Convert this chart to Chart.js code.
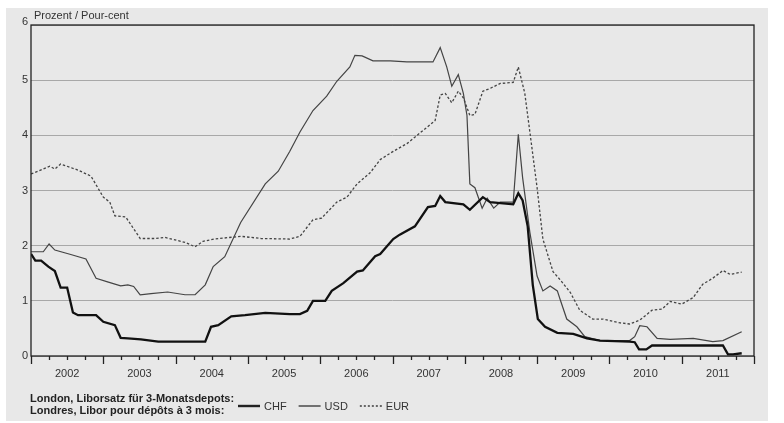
<!DOCTYPE html>
<html><head><meta charset="utf-8">
<script src="https://cdn.jsdelivr.net/npm/chart.js@4"></script>
<style>
html,body{margin:0;padding:0;background:#fff;}
#wrap{position:absolute;left:0;top:0;width:784px;height:423px;}
</style></head>
<body><div id="wrap"><canvas id="c" width="784" height="423"></canvas></div>
<script>
const yearLabels = ['2002','2003','2004','2005','2006','2007','2008','2009','2010','2011'];
const yTicks = [0,1,2,3,4,5,6];

const chfX = [2002.0,2002.06,2002.14,2002.24,2002.33,2002.41,2002.50,2002.58,2002.65,2002.90,2003.00,2003.16,2003.24,2003.34,2003.52,2003.76,2004.03,2004.27,2004.41,2004.49,2004.59,2004.77,2004.96,2005.24,2005.58,2005.72,2005.82,2005.90,2006.07,2006.16,2006.32,2006.51,2006.59,2006.76,2006.83,2007.01,2007.10,2007.31,2007.49,2007.59,2007.66,2007.73,2007.98,2008.07,2008.25,2008.35,2008.67,2008.74,2008.80,2008.87,2008.94,2009.01,2009.11,2009.28,2009.50,2009.69,2009.87,2010.28,2010.35,2010.41,2010.51,2010.59,2011.16,2011.57,2011.64,2011.71,2011.83];
const chfY = [1.85,1.73,1.73,1.62,1.54,1.24,1.24,0.79,0.74,0.74,0.62,0.56,0.33,0.32,0.30,0.26,0.26,0.26,0.26,0.53,0.56,0.72,0.74,0.78,0.76,0.76,0.82,1.0,1.0,1.18,1.32,1.53,1.55,1.81,1.85,2.12,2.2,2.35,2.7,2.72,2.9,2.79,2.75,2.65,2.88,2.79,2.75,2.95,2.82,2.35,1.29,0.67,0.53,0.42,0.40,0.32,0.28,0.26,0.25,0.12,0.12,0.19,0.19,0.19,0.03,0.03,0.05];

const usdX = [2002.0,2002.17,2002.25,2002.33,2002.55,2002.76,2002.90,2003.07,2003.24,2003.34,2003.42,2003.51,2003.66,2003.89,2004.13,2004.27,2004.41,2004.52,2004.68,2004.90,2005.24,2005.42,2005.58,2005.72,2005.90,2006.09,2006.23,2006.41,2006.48,2006.58,2006.73,2006.97,2007.20,2007.56,2007.66,2007.75,2007.82,2007.91,2007.98,2008.03,2008.07,2008.14,2008.24,2008.31,2008.40,2008.49,2008.67,2008.74,2008.80,2008.90,2009.00,2009.08,2009.18,2009.28,2009.32,2009.41,2009.55,2009.66,2009.87,2010.28,2010.35,2010.42,2010.52,2010.66,2010.84,2011.16,2011.43,2011.57,2011.83];
const usdY = [1.89,1.89,2.03,1.92,1.84,1.76,1.41,1.34,1.27,1.29,1.26,1.11,1.13,1.16,1.11,1.11,1.29,1.62,1.8,2.42,3.12,3.35,3.71,4.06,4.45,4.71,4.98,5.24,5.45,5.44,5.35,5.35,5.33,5.33,5.59,5.24,4.89,5.1,4.76,4.36,3.12,3.05,2.68,2.86,2.68,2.79,2.79,4.02,3.23,2.24,1.45,1.18,1.27,1.18,1.02,0.67,0.53,0.35,0.28,0.28,0.35,0.55,0.53,0.32,0.3,0.32,0.26,0.28,0.44];

const eurX = [2002.0,2002.10,2002.26,2002.33,2002.41,2002.65,2002.83,2003.00,2003.09,2003.16,2003.31,2003.51,2003.72,2003.85,2004.13,2004.27,2004.38,2004.54,2004.90,2005.18,2005.58,2005.72,2005.90,2006.02,2006.23,2006.37,2006.51,2006.69,2006.83,2007.01,2007.20,2007.34,2007.48,2007.59,2007.66,2007.73,2007.82,2007.91,2007.98,2008.07,2008.14,2008.25,2008.35,2008.49,2008.67,2008.74,2008.83,2008.90,2009.00,2009.08,2009.22,2009.32,2009.46,2009.59,2009.77,2009.91,2010.15,2010.28,2010.42,2010.59,2010.73,2010.84,2011.00,2011.16,2011.29,2011.43,2011.57,2011.67,2011.83];
const eurY = [3.3,3.35,3.44,3.39,3.48,3.37,3.26,2.88,2.79,2.54,2.52,2.13,2.13,2.15,2.06,1.98,2.08,2.12,2.17,2.13,2.12,2.17,2.47,2.5,2.79,2.88,3.12,3.32,3.56,3.71,3.85,4.0,4.15,4.27,4.73,4.76,4.59,4.8,4.68,4.36,4.38,4.8,4.85,4.94,4.96,5.24,4.76,4.06,3.05,2.12,1.53,1.38,1.15,0.83,0.67,0.67,0.6,0.58,0.65,0.83,0.85,0.99,0.94,1.06,1.3,1.41,1.55,1.48,1.52];

const pts = (xs, ys) => xs.map((x, i) => ({x, y: ys[i]}));
const FONT = "'Liberation Sans Narrow', 'Liberation Sans', Arial, sans-serif";

const decor = {
  id: 'decor',
  beforeDraw(chart) {
    const c = chart.ctx;
    c.save();
    c.fillStyle = '#e8e8e8';
    c.fillRect(6, 8, 762, 413);
    c.restore();
  },
  afterDraw(chart) {
    const c = chart.ctx, xs = chart.scales.x, ys = chart.scales.y, a = chart.chartArea;
    c.save();
    c.strokeStyle = '#222'; c.lineWidth = 1.3;
    c.strokeRect(a.left, a.top, a.right - a.left, a.bottom - a.top);
    // x ticks: quarters short, years long
    for (let q = 0; q <= 40; q++) {
      const px = Math.round(xs.getPixelForValue(2002 + q / 4)) + 0.5;
      c.beginPath(); c.moveTo(px, a.bottom); c.lineTo(px, a.bottom + (q % 4 === 0 ? 8 : 4)); c.stroke();
    }
    c.fillStyle = '#333'; c.font = '11px ' + FONT;
    c.textAlign = 'center'; c.textBaseline = 'top';
    yearLabels.forEach((l, i) => c.fillText(l, xs.getPixelForValue(2002.5 + i), a.bottom + 12));
    c.textAlign = 'right'; c.textBaseline = 'middle';
    yTicks.forEach(v => c.fillText(String(v), a.left - 3, ys.getPixelForValue(v) - (v === 6 ? 3 : 0)));
    c.textAlign = 'left'; c.textBaseline = 'alphabetic';
    c.fillText('Prozent / Pour-cent', a.left + 3, a.top - 6);
    // legend
    c.font = 'bold 11px ' + FONT; c.fillStyle = '#222';
    c.fillText('London, Liborsatz für 3-Monatsdepots:', 30, 402);
    c.fillText('Londres, Libor pour dépôts à 3 mois:', 30, 414);
    c.font = '11px ' + FONT; c.fillStyle = '#333';
    const items = [['CHF', 2.4, []], ['USD', 1.2, []], ['EUR', 1.3, [2, 2]]];
    let lx = 238;
    items.forEach(([t, w, d]) => {
      c.beginPath(); c.setLineDash(d); c.lineWidth = w; c.strokeStyle = '#222';
      c.moveTo(lx, 406); c.lineTo(lx + 22, 406); c.stroke(); c.setLineDash([]);
      c.fillText(t, lx + 26, 410);
      lx += 26 + c.measureText(t).width + 12;
    });
    c.restore();
  }
};

new Chart(document.getElementById('c'), {
  type: 'line',
  data: {
    datasets: [
      { label: 'CHF', data: pts(chfX, chfY), borderColor: '#111', borderWidth: 2.3, pointRadius: 0, tension: 0 },
      { label: 'USD', data: pts(usdX, usdY), borderColor: '#444', borderWidth: 1.2, pointRadius: 0, tension: 0 },
      { label: 'EUR', data: pts(eurX, eurY), borderColor: '#444', borderWidth: 1.3, borderDash: [2.5, 2], pointRadius: 0, tension: 0 }
    ]
  },
  options: {
    responsive: false, animation: false,
    layout: { padding: { left: 31, top: 25, right: 30, bottom: 59 } },
    plugins: { legend: { display: false }, tooltip: { enabled: false } },
    scales: {
      x: { type: 'linear', min: 2002, max: 2012, ticks: { display: false }, grid: { display: false }, border: { display: false } },
      y: { min: 0, max: 6, ticks: { display: false, stepSize: 1 },
           grid: { color: '#a8a8a8', lineWidth: 1, borderDash: [1, 2], drawTicks: false }, border: { display: false } }
    }
  },
  plugins: [decor]
});
</script></body></html>
